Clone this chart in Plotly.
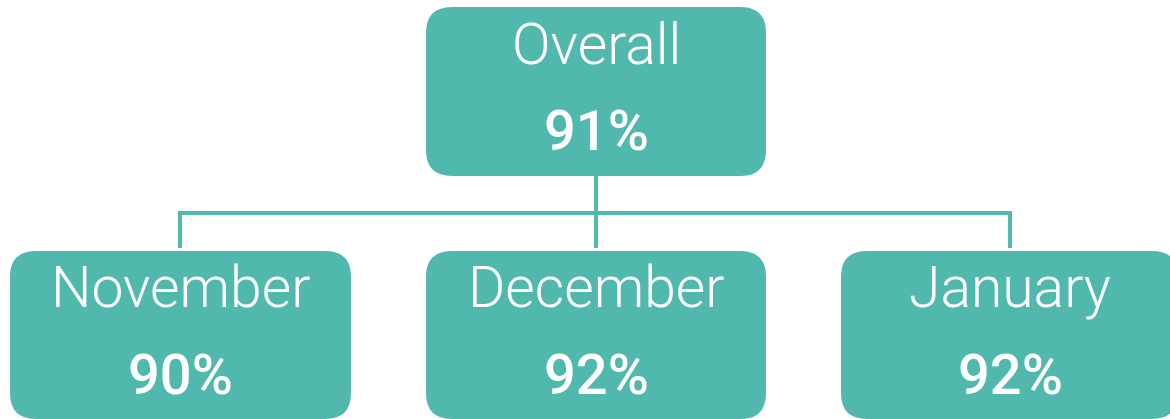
import plotly.graph_objects as go

# Data
top_label = "Overall"
top_value = "91%"
month_labels = ["November", "December", "January"]
month_values = ["90%", "92%", "92%"]

TEAL = "#50B8AD"
W, H = 1170, 419

fig = go.Figure()

def rrect(x0, y0, x1, y1, r):
    return (f"M {x0+r},{y0} L {x1-r},{y0} Q {x1},{y0} {x1},{y0+r} "
            f"L {x1},{y1-r} Q {x1},{y1} {x1-r},{y1} L {x0+r},{y1} "
            f"Q {x0},{y1} {x0},{y1-r} L {x0},{y0+r} Q {x0},{y0} {x0+r},{y0} Z")

shapes = []
line = dict(color=TEAL, width=4)
shapes.append(dict(type="line", x0=596, x1=596, y0=176, y1=248, line=line, layer="below"))
shapes.append(dict(type="line", x0=180, x1=1010, y0=213, y1=213, line=line, layer="below"))
centers = [180, 596, 1010]
for cx in centers:
    shapes.append(dict(type="line", x0=cx, x1=cx, y0=211, y1=248, line=line, layer="below"))

shapes.append(dict(type="path", path=rrect(426, 7, 766, 176, 26), fillcolor=TEAL, line=dict(width=0)))
boxes = [(10, 351), (426, 766), (841, 1178)]
for (x0, x1) in boxes:
    shapes.append(dict(type="path", path=rrect(x0, 251, x1, 419, 26), fillcolor=TEAL, line=dict(width=0)))

annotations = []
def label(x, y, text, size, weight):
    annotations.append(dict(x=x, y=y, xref="x", yref="y", text=text, showarrow=False,
                            xanchor="center", yanchor="middle",
                            font=dict(family="Roboto", size=size, color="white", weight=weight)))

label(596, 44, top_label, 57, 300)
label(596, 131, top_value, 56, 500)
for cx, lab, val in zip(centers, month_labels, month_values):
    label(cx, 287, lab, 57, 300)
    label(cx, 375, val, 56, 500)

fig.update_layout(
    width=W, height=H, autosize=False,
    margin=dict(l=0, r=0, t=0, b=0),
    paper_bgcolor="white", plot_bgcolor="white",
    xaxis=dict(range=[0, W], visible=False, fixedrange=True),
    yaxis=dict(range=[H, 0], visible=False, fixedrange=True),
    shapes=shapes, annotations=annotations, showlegend=False,
)
fig.write_html("out.html", config={"displayModeBar": False},
               post_script="document.body.style.margin='0';document.body.style.overflow='hidden';")
